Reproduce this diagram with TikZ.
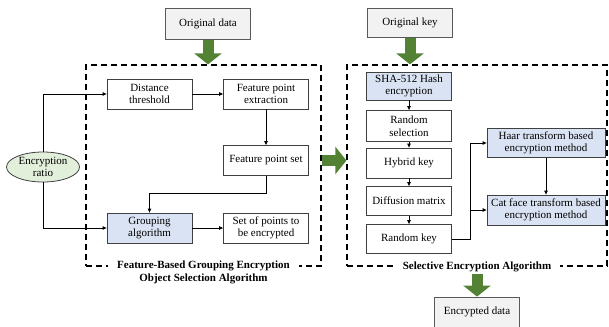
\documentclass[tikz,border=0pt]{standalone}
\usepackage{fontspec}
\setmainfont{Liberation Serif}
\usetikzlibrary{arrows.meta,shapes.geometric}
\definecolor{arrowgreen}{RGB}{84,130,53}
\definecolor{boxblue}{RGB}{218,227,243}
\definecolor{ratiogreen}{RGB}{226,239,218}
\definecolor{datagray}{RGB}{242,242,242}

\begin{document}
\begin{tikzpicture}[x=1pt,y=-1pt,font=\fontsize{11}{12.5}\selectfont,
        stepbox/.style={draw=black!75,line width=0.8pt,fill=white,minimum width=85pt,minimum height=30pt,align=center,inner sep=1pt},
        bluebox/.style={stepbox,fill=boxblue},
        databox/.style={stepbox,draw=black!65,fill=datagray,minimum height=31pt},
        frame/.style={draw,line width=1.2pt,dash pattern=on 6pt off 4pt},
        framelabel/.style={fill=white,font=\fontsize{11}{13}\selectfont\bfseries,align=center,inner ysep=2pt,inner xsep=9pt},
        link/.style={line width=0.8pt,-{Triangle[length=4pt,width=3.5pt]}},
        fatarrow/.style={draw=arrowgreen,line width=11pt,-{Triangle[length=11pt,width=27pt]}}]
            \useasboundingbox (0,0) rectangle (609,326);

            \node (lframe) at (203.5,165.5) [frame,minimum width=235pt,minimum height=201pt] {};
            \node (rframe) at (477,165.5) [frame,minimum width=260pt,minimum height=201pt] {};

            \node (odata) at (208,24) [databox] {Original data};
            \node (okey) at (410,23) [databox,minimum height=29pt] {Original key};
            \node (enc) at (477,312) [databox,minimum height=30pt] {Encrypted data};

            \node (ratio) at (43,167) [ellipse,draw=black!75,line width=0.8pt,fill=ratiogreen,inner sep=0pt,minimum width=73pt,minimum height=30pt,align=center,font=\fontsize{11}{11.5}\selectfont] {Encryption\\ratio};

            \node (dist) at (149.5,94) [stepbox] {Distance\\threshold};
            \node (fext) at (266,94) [stepbox] {Feature point\\extraction};
            \node (fset) at (266,160.5) [stepbox] {Feature point set};
            \node (group) at (149.5,228) [bluebox] {Grouping\\algorithm};
            \node (pts) at (266,228) [stepbox] {Set of points to\\be encrypted};

            \node (sha) at (409,86) [bluebox,minimum height=28pt] {SHA-512 Hash\\encryption};
            \node (rsel) at (409,126) [stepbox,minimum height=31pt] {Random\\selection};
            \node (hkey) at (409,163) [stepbox] {Hybrid key};
            \node (diff) at (409,201) [stepbox,minimum height=29pt] {Diffusion matrix};
            \node (rkey) at (409,239) [stepbox,minimum height=29pt] {Random key};
            \node (haar) at (546,143) [bluebox,minimum width=118pt,minimum height=29pt] {Haar transform based\\encryption method};
            \node (cat) at (546,210) [bluebox,minimum width=118pt,minimum height=30pt] {Cat face transform based\\encryption method};

            \node (llabel) at (lframe.south) [framelabel,anchor=north,yshift=8pt] {Feature-Based Grouping Encryption\\Object Selection Algorithm};
            \node (rlabel) at (rframe.south) [framelabel] {Selective Encryption Algorithm};

            \draw[link] (ratio.north) |- (dist.west);
            \draw[link] (ratio.south) |- (group.west);
            \draw[link] (dist) -- (fext);
            \draw[link] (fext) -- (fset);
            \draw[link] (fset.south) -- ++(0,17) -| (group.north);
            \draw[link] (group) -- (pts);

            \draw[link] (sha) -- (rsel);
            \draw[link] (rsel) -- (hkey);
            \draw[link] (hkey) -- (diff);
            \draw[link] (diff) -- (rkey);
            \draw[link] (rkey.east) -- ++(18,0) coordinate (split) |- (haar.west);
            \draw[link] (split) |- (cat.west);
            \draw[link] (haar) -- (cat);

            \draw[fatarrow] (odata.south) -- (odata.south |- lframe.north);
            \draw[fatarrow] (okey.south) -- (okey.south |- rframe.north);
            \draw[fatarrow] (lframe.east |- fset.center) -- (rframe.west |- fset.center);
            \draw[fatarrow] (rlabel.south) -- (enc.north);

        \end{tikzpicture}
\end{document}
